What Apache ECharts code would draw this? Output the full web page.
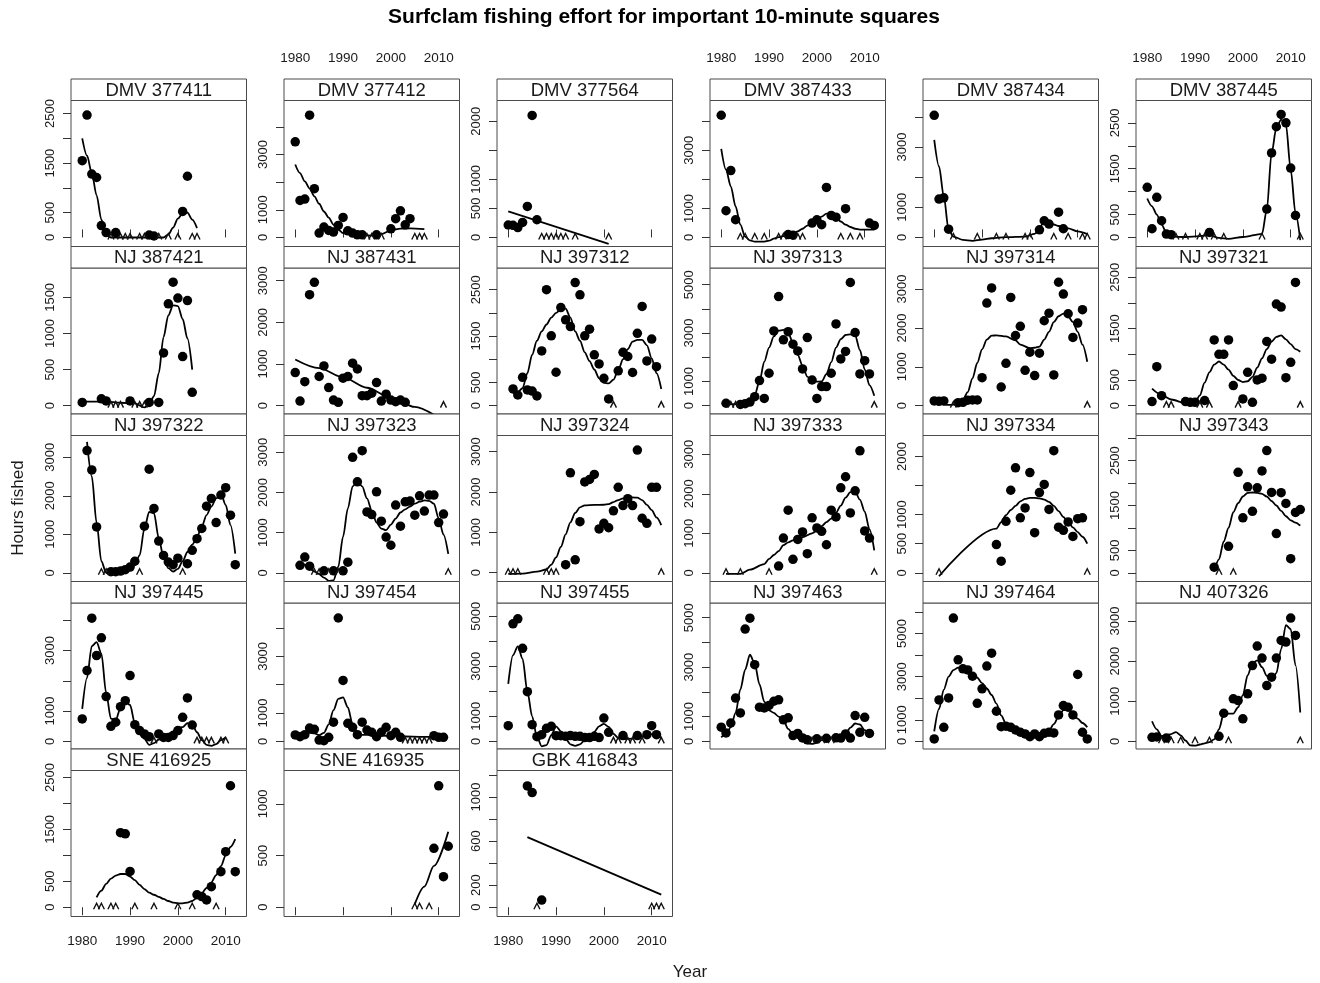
<!DOCTYPE html>
<html><head><meta charset="utf-8">
<script src="https://cdn.jsdelivr.net/npm/echarts@6.0.0/dist/echarts.min.js"></script>
<style>html,body{margin:0;padding:0;background:#fff}#c{width:1320px;height:983px}</style>
</head><body><div id="c"></div>
<script>
const chartTitle = 'Surfclam fishing effort for important 10-minute squares';
const xAxisTitle = 'Year';
const yAxisTitle = 'Hours fished';
const yearTicks = [1980, 1990, 2000, 2010];
const yearRange = [1977.65, 2014.35];

const panelNames = [
  'DMV 377411','DMV 377412','DMV 377564','DMV 387433','DMV 387434','DMV 387445',
  'NJ 387421','NJ 387431','NJ 397312','NJ 397313','NJ 397314','NJ 397321',
  'NJ 397322','NJ 397323','NJ 397324','NJ 397333','NJ 397334','NJ 397343',
  'NJ 397445','NJ 397454','NJ 397455','NJ 397463','NJ 397464','NJ 407326',
  'SNE 416925','SNE 416935','GBK 416843'
];

const yLimits = [
  [-182,2763],[-326,4955],[-155,2357],[-310,4712],[-299,4542],[-197,2988],
  [-116,1907],[-200,3305],[-180,2968],[-345,5690],[-215,3542],[-163,2682],
  [-226,3565],[-217,3417],[-217,3400],[-220,3474],[-150,2362],[-194,3060],
  [-254,4573],[-271,4885],[-307,5533],[-311,5594],[-357,6419],[-192,3450],
  [-179,2634],[-90,1323],[-84,1240]
];

const yTickValues = [
  [0,500,1000,1500,2000,2500],[0,1000,2000,3000,4000],[0,500,1000,1500,2000],[0,1000,2000,3000,4000],[0,1000,2000,3000,4000],[0,500,1000,1500,2000,2500],
  [0,500,1000,1500],[0,1000,2000,3000],[0,500,1000,1500,2000,2500],[0,1000,2000,3000,4000,5000],[0,1000,2000,3000],[0,500,1000,1500,2000,2500],
  [0,1000,2000,3000],[0,1000,2000,3000],[0,1000,2000,3000],[0,1000,2000,3000],[0,500,1000,1500,2000],[0,500,1000,1500,2000,2500,3000],
  [0,1000,2000,3000,4000],[0,1000,2000,3000,4000],[0,1000,2000,3000,4000,5000],[0,1000,2000,3000,4000,5000],[0,1000,2000,3000,4000,5000,6000],[0,1000,2000,3000],
  [0,500,1000,1500,2000,2500],[0,500,1000],[0,200,400,600,800,1000,1200]
];

const yLabelValues = [
  [0,500,1500,2500],[0,1000,3000],[0,500,1000,2000],[0,1000,3000],[0,1000,3000],[0,500,1500,2500],
  [0,500,1000,1500],[0,1000,2000,3000],[0,500,1500,2500],[0,1000,3000,5000],[0,1000,2000,3000],[0,500,1500,2500],
  [0,1000,2000,3000],[0,1000,2000,3000],[0,1000,2000,3000],[0,1000,2000,3000],[0,500,1000,2000],[0,500,1500,2500],
  [0,1000,3000],[0,1000,3000],[0,1000,3000,5000],[0,1000,3000,5000],[0,1000,3000,5000],[0,1000,2000,3000],
  [0,500,1500,2500],[0,500,1000],[0,200,600,1000]
];

const panelPoints = [
  [[1980,1550],[1981,2470],[1982,1280],[1983,1210],[1984,240],[1985,100],[1987,100],[1994,50],[1995,30],[2001,525],[2002,1235]],
  [[1980,3460],[1981,1340],[1982,1390],[1983,4425],[1984,1765],[1985,160],[1986,375],[1987,255],[1988,195],[1989,435],[1990,725],[1991,240],[1992,160],[1993,95],[1994,95],[1997,95],[2000,315],[2001,680],[2002,965],[2003,460],[2004,680]],
  [[1980,215],[1981,210],[1982,170],[1983,260],[1984,535],[1985,2100],[1986,305]],
  [[1980,4205],[1981,920],[1982,2300],[1983,610],[1994,100],[1995,80],[1999,495],[2000,610],[2001,440],[2002,1720],[2003,760],[2004,700],[2006,990],[2011,495],[2012,415]],
  [[1980,4050],[1981,1275],[1982,1315],[1983,275],[2002,255],[2003,555],[2004,445],[2006,840],[2007,290]],
  [[1980,1095],[1981,190],[1982,875],[1983,365],[1984,75],[1985,60],[1993,110],[2005,620],[2006,1845],[2007,2415],[2008,2685],[2009,2500],[2010,1515],[2011,480]],
  [[1980,45],[1984,95],[1985,65],[1990,65],[1994,45],[1996,45],[1997,730],[1998,1410],[1999,1710],[2000,1490],[2001,680],[2002,1455],[2003,185]],
  [[1980,795],[1981,110],[1982,575],[1983,2665],[1984,2960],[1985,700],[1986,955],[1987,435],[1988,135],[1989,80],[1990,660],[1991,700],[1992,1020],[1993,880],[1994,240],[1995,240],[1996,300],[1997,555],[1998,110],[1999,275],[2000,135],[2001,95],[2002,135],[2003,80]],
  [[1981,360],[1982,230],[1983,610],[1984,340],[1985,315],[1986,210],[1987,1180],[1988,2500],[1989,1505],[1990,720],[1991,2115],[1992,1850],[1993,1705],[1994,2655],[1995,2390],[1996,1505],[1997,1650],[1998,1095],[1999,900],[2000,590],[2001,145],[2003,750],[2004,1150],[2005,1060],[2006,715],[2007,1560],[2008,2140],[2009,965],[2010,1435],[2011,840]],
  [[1981,100],[1984,50],[1985,80],[1986,150],[1987,370],[1988,1035],[1989,300],[1990,1340],[1991,3090],[1992,4510],[1993,2720],[1994,3060],[1995,2540],[1996,2260],[1997,1520],[1998,2815],[1999,1060],[2000,300],[2001,790],[2002,790],[2003,1340],[2004,3380],[2005,1930],[2006,2240],[2007,5090],[2008,3020],[2009,1310],[2010,1860],[2011,1310]],
  [[1980,120],[1981,110],[1982,120],[1985,75],[1986,85],[1987,140],[1988,145],[1989,145],[1990,720],[1991,2640],[1992,3030],[1994,480],[1995,1090],[1996,2785],[1997,1805],[1998,2040],[1999,910],[2000,1375],[2001,775],[2002,1350],[2003,2185],[2004,2380],[2005,790],[2006,3175],[2007,2870],[2008,2365],[2009,1755],[2010,2125],[2011,2470]],
  [[1981,80],[1982,760],[1983,195],[1988,80],[1989,65],[1990,65],[1992,100],[1994,1280],[1995,1000],[1996,1000],[1997,1280],[1998,390],[2000,130],[2001,650],[2002,65],[2003,500],[2004,535],[2005,1250],[2006,905],[2007,1980],[2008,1920],[2009,545],[2010,845],[2011,2400]],
  [[1981,3175],[1982,2670],[1983,1190],[1986,30],[1987,30],[1988,45],[1989,80],[1990,150],[1991,300],[1993,1210],[1994,2690],[1995,1670],[1996,825],[1997,450],[1998,280],[1999,210],[2000,380],[2002,235],[2003,585],[2004,885],[2005,1150],[2006,1730],[2007,1930],[2008,1305],[2009,2020],[2010,2210],[2011,1495],[2012,210]],
  [[1981,185],[1982,390],[1983,165],[1986,50],[1988,50],[1990,50],[1991,265],[1992,2875],[1993,2265],[1994,3040],[1995,1515],[1996,1450],[1997,2015],[1998,1285],[1999,890],[2000,685],[2001,1685],[2002,1160],[2003,1765],[2004,1785],[2005,1435],[2006,1915],[2007,1535],[2008,1935],[2009,1935],[2010,1250],[2011,1460]],
  [[1992,200],[1993,2475],[1994,320],[1995,1265],[1996,2250],[1997,2310],[1998,2435],[1999,1085],[2000,1225],[2001,1115],[2002,1535],[2003,2115],[2004,1665],[2005,1835],[2006,1665],[2007,3040],[2008,1350],[2009,1225],[2010,2115],[2011,2115]],
  [[1992,170],[1993,880],[1994,1585],[1995,340],[1996,845],[1997,1035],[1998,485],[1999,1390],[2000,1135],[2001,1050],[2002,710],[2003,1585],[2004,1415],[2005,2150],[2006,2430],[2007,1515],[2008,2075],[2009,3085],[2010,1060],[2011,880]],
  [[1993,485],[1994,200],[1995,885],[1996,1420],[1997,1805],[1998,945],[1999,1115],[2000,1725],[2001,690],[2002,1380],[2003,1520],[2004,1090],[2005,2100],[2006,785],[2007,730],[2008,875],[2009,625],[2010,930],[2011,945]],
  [[1994,125],[1997,590],[1999,2240],[2000,1225],[2001,1915],[2002,1370],[2003,1895],[2004,2270],[2005,2725],[2006,1790],[2007,875],[2008,1785],[2009,1545],[2010,315],[2011,1345],[2012,1410]],
  [[1980,740],[1981,2340],[1982,4070],[1983,2835],[1984,3420],[1985,1480],[1986,495],[1987,630],[1988,1145],[1989,1345],[1990,2175],[1991,550],[1992,355],[1993,245],[1994,155],[1996,245],[1997,130],[1998,130],[1999,190],[2000,355],[2001,795],[2002,1435],[2003,540]],
  [[1980,225],[1981,165],[1982,235],[1983,470],[1984,425],[1985,45],[1986,20],[1987,140],[1988,675],[1989,4355],[1990,2150],[1991,635],[1992,495],[1993,235],[1994,675],[1995,400],[1996,320],[1997,165],[1998,320],[1999,495],[2000,200],[2001,320],[2002,140],[2009,200],[2010,140],[2011,140]],
  [[1980,625],[1981,4700],[1982,4900],[1983,3720],[1984,1985],[1985,665],[1986,185],[1987,265],[1988,520],[1989,600],[1990,225],[1991,225],[1992,200],[1993,230],[1994,200],[1995,200],[1996,150],[1997,150],[1998,200],[1999,150],[2000,930],[2001,360],[2004,230],[2007,230],[2009,265],[2010,625],[2011,265]],
  [[1980,570],[1981,340],[1982,740],[1983,1750],[1984,1150],[1985,4540],[1986,4980],[1987,3100],[1988,1380],[1989,1350],[1990,1450],[1991,1620],[1992,1680],[1993,870],[1994,950],[1995,230],[1996,320],[1997,135],[1998,60],[2000,100],[2002,120],[2004,140],[2005,130],[2006,300],[2007,130],[2008,1040],[2009,365],[2010,970],[2011,320]],
  [[1980,110],[1981,1920],[1982,650],[1983,2015],[1984,5720],[1985,3780],[1986,3365],[1987,3315],[1988,3020],[1989,1765],[1990,2435],[1991,3490],[1992,4090],[1993,1395],[1994,680],[1995,700],[1996,650],[1997,525],[1998,420],[1999,340],[2000,215],[2001,340],[2002,215],[2003,370],[2004,420],[2005,390],[2006,1225],[2007,1660],[2008,1580],[2009,1225],[2010,3100],[2011,420],[2012,110]],
  [[1981,100],[1982,110],[1984,80],[1995,125],[1996,700],[1998,1060],[1999,1015],[2000,560],[2001,1185],[2002,1890],[2003,2375],[2004,2075],[2005,1390],[2006,1600],[2007,2075],[2008,2515],[2009,2475],[2010,3075],[2011,2640]],
  [[1988,1435],[1989,1415],[1990,690],[2004,240],[2005,205],[2006,140],[2007,395],[2009,685],[2010,1070],[2011,2340],[2012,685]],
  [[2009,570],[2010,1175],[2011,295],[2012,590]],
  [[1984,1100],[1985,1040],[1987,65]]
];

const panelZeros = [
  [1986,1988,1989,1990,1992,1993,1996,1998,2000,2003,2004],
  [1995,1996,1998,2005,2006,2007],
  [1987,1988,1989,1990,1991,1992,1994,2001],
  [1984,1985,1987,1989,1992,1993,1996,1997,2005,2007,2009],
  [1984,1989,1993,1995,1999,2000,2005,2008,2011,2012],
  [1986,1988,1991,1992,1994,1996,2004,2012],
  [1986,1987,1988,1991,1992,1993],
  [2011],
  [2002,2012],
  [1982,1983,2012],
  [1984,2012],
  [1984,1985,1991,1993,1999,2012],
  [1984,1985,1992,2001],
  [1984,1985,1987,1989,2012],
  [1980,1981,1982,1988,1989,1990,2012],
  [1981,1984,1990,2012],
  [1981,2012],
  [1995,1998],
  [1995,2004,2005,2006,2007,2009,2010],
  [2003,2004,2005,2006,2007,2008],
  [2002,2003,2005,2006,2008,2012],
  [1999,2001,2003],
  [],
  [1983,1985,1987,1990,1993,1997,2012],
  [1983,1984,1986,1987,1991,1995,2000,2003,2008],
  [2005,2006,2008],
  [1986,2010,2011,2012]
];

const panelSmooth = [
  [[1980,2000],[1981,1650],[1982,1300],[1983,850],[1984,360],[1985,60],[1986,0],[1997,0],[1998,60],[1999,200],[2000,380],[2001,490],[2002,500],[2003,360],[2004,190]],
  [[1980,2640],[1981,2330],[1982,2030],[1983,1770],[1984,1490],[1985,1220],[1986,940],[1987,720],[1988,460],[1989,280],[1990,160],[1992,100],[1994,80],[1996,70],[1998,120],[2000,260],[2002,320],[2004,330],[2007,300]],
  [[1980,450],[2001,-110]],
  [[1980,3050],[1981,2330],[1982,1760],[1983,1070],[1984,440],[1985,30],[1986,-100],[1987,-140],[1989,-140],[1990,-110],[1991,-40],[1992,10],[1993,50],[1995,140],[1996,210],[1997,300],[1998,410],[1999,520],[2000,600],[2001,720],[2002,820],[2003,800],[2004,680],[2005,550],[2006,440],[2007,360],[2008,300],[2009,270],[2012,270]],
  [[1980,3240],[1981,2360],[1982,1360],[1983,260],[1984,30],[1986,-80],[1988,-110],[1990,-70],[1992,-25],[1995,10],[1999,30],[2001,120],[2002,300],[2003,560],[2004,500],[2005,430],[2006,380],[2008,300],[2010,200],[2012,110]],
  [[1980,850],[1981,680],[1982,500],[1983,280],[1984,110],[1985,20],[1988,10],[1991,30],[1993,50],[1995,-10],[1997,-30],[2000,10],[2004,80],[2005,600],[2006,1840],[2007,2390],[2008,2570],[2009,2460],[2010,1480],[2011,530],[2012,-60]],
  [[1980,55],[1985,55],[1988,40],[1991,30],[1993,-25],[1994,20],[1995,130],[1996,450],[1997,950],[1998,1250],[1999,1390],[2000,1380],[2001,1200],[2002,930],[2003,500]],
  [[1980,1110],[1985,900],[1990,680],[1995,430],[2000,190],[2005,-30],[2009,-220]],
  [[1981,270],[1982,290],[1983,380],[1984,700],[1985,1100],[1986,1400],[1987,1600],[1988,1750],[1989,1900],[1990,2000],[1991,2080],[1992,2090],[1993,1900],[1994,1600],[1995,1400],[1996,1150],[1997,960],[1998,780],[1999,590],[2000,490],[2001,480],[2002,560],[2003,760],[2004,1000],[2005,1220],[2006,1380],[2007,1420],[2008,1420],[2009,1300],[2010,1020],[2011,700],[2012,360]],
  [[1981,55],[1983,60],[1985,165],[1986,250],[1987,440],[1988,1000],[1989,1820],[1990,2400],[1991,2860],[1992,3100],[1993,3130],[1994,3000],[1995,2600],[1996,2100],[1997,1650],[1998,1200],[1999,1020],[2000,990],[2001,1000],[2002,1300],[2003,1800],[2004,2400],[2005,2750],[2006,2920],[2007,2950],[2008,2900],[2009,2300],[2010,1500],[2011,850],[2012,410]],
  [[1981,60],[1983,20],[1985,30],[1986,150],[1987,350],[1988,700],[1989,1100],[1990,1450],[1991,1700],[1992,1800],[1993,1810],[1995,1780],[1997,1680],[1998,1570],[2000,1480],[2001,1490],[2002,1520],[2003,1700],[2004,1900],[2005,2150],[2006,2300],[2007,2370],[2008,2300],[2009,2150],[2010,1900],[2011,1570],[2012,1130]],
  [[1981,330],[1983,210],[1985,120],[1988,45],[1990,60],[1991,200],[1992,450],[1993,650],[1994,800],[1995,860],[1996,800],[1997,700],[1998,580],[1999,500],[2000,460],[2001,475],[2002,560],[2003,740],[2004,920],[2005,1100],[2006,1250],[2007,1340],[2008,1370],[2009,1290],[2010,1200],[2011,1100],[2012,1050]],
  [[1981,3400],[1982,2500],[1983,1300],[1984,300],[1985,0],[1986,-50],[1987,-40],[1988,0],[1989,40],[1990,100],[1991,200],[1992,450],[1993,1150],[1994,1580],[1995,1550],[1996,900],[1997,400],[1998,120],[1999,30],[2000,100],[2001,300],[2002,540],[2003,730],[2004,930],[2005,1200],[2006,1500],[2007,1720],[2008,1930],[2009,2060],[2010,1760],[2011,1240],[2012,500]],
  [[1981,270],[1982,200],[1983,100],[1984,30],[1985,-30],[1986,-120],[1987,-200],[1988,-190],[1989,150],[1990,900],[1991,1600],[1992,2150],[1993,2300],[1994,2150],[1995,1850],[1996,1550],[1997,1250],[1998,1100],[1999,1060],[2000,1200],[2001,1350],[2002,1500],[2003,1580],[2004,1650],[2005,1720],[2006,1770],[2007,1800],[2008,1790],[2009,1720],[2010,1350],[2011,950],[2012,470]],
  [[1980,-30],[1983,-20],[1986,30],[1988,80],[1989,200],[1990,380],[1991,640],[1992,950],[1993,1250],[1994,1480],[1995,1620],[1996,1670],[1998,1680],[2000,1685],[2001,1700],[2002,1750],[2003,1800],[2004,1840],[2005,1860],[2006,1865],[2007,1860],[2008,1800],[2009,1680],[2010,1550],[2011,1370],[2012,1180]],
  [[1981,-25],[1984,-25],[1986,80],[1989,220],[1990,350],[1991,450],[1992,550],[1993,700],[1994,770],[1995,820],[1997,900],[1999,1000],[2001,1180],[2002,1280],[2003,1370],[2004,1520],[2005,1700],[2006,1900],[2007,2040],[2008,2050],[2009,1850],[2010,1550],[2011,1100],[2012,570]],
  [[1981,-60],[1993,760],[1994,870],[1995,990],[1996,1080],[1997,1150],[1998,1230],[1999,1270],[2000,1290],[2001,1290],[2002,1280],[2003,1260],[2004,1220],[2005,1150],[2006,1060],[2007,960],[2008,870],[2009,780],[2010,700],[2011,620],[2012,500]],
  [[1994,30],[1995,300],[1996,700],[1997,1000],[1998,1350],[1999,1550],[2000,1700],[2001,1780],[2002,1790],[2003,1780],[2004,1760],[2005,1700],[2006,1600],[2007,1500],[2008,1380],[2009,1260],[2010,1170],[2011,1120],[2012,1050]],
  [[1980,1070],[1981,2100],[1982,3150],[1983,3280],[1984,2900],[1985,1600],[1986,750],[1987,700],[1988,1100],[1989,1330],[1990,1200],[1991,600],[1992,250],[1993,80],[1994,-120],[1995,-60],[1996,60],[1997,130],[1998,220],[1999,330],[2000,450],[2001,470],[2002,600],[2003,560],[2004,300],[2005,40],[2006,-120],[2007,-150],[2008,-90],[2009,40],[2010,140]],
  [[1980,220],[1982,280],[1983,300],[1984,280],[1985,220],[1986,300],[1987,600],[1988,1100],[1989,1500],[1990,1550],[1991,1200],[1992,600],[1993,300],[1994,230],[1996,220],[1998,200],[2000,190],[2003,170],[2006,160],[2009,160],[2011,160]],
  [[1980,2300],[1981,3450],[1982,3800],[1983,3300],[1984,2000],[1985,1000],[1986,180],[1987,-200],[1988,-150],[1989,250],[1990,600],[1991,400],[1992,100],[1993,-120],[1994,-180],[1995,-120],[1996,50],[1997,200],[1998,380],[1999,600],[2000,700],[2001,580],[2002,300],[2003,140],[2004,90],[2006,110],[2008,200],[2010,290],[2011,220],[2012,130]],
  [[1980,160],[1981,300],[1982,570],[1983,1150],[1984,2100],[1985,2900],[1986,3500],[1987,3150],[1988,2300],[1989,1600],[1990,1250],[1991,1150],[1992,1000],[1993,850],[1994,500],[1995,300],[1996,130],[1997,20],[1998,-80],[1999,-100],[2000,-60],[2001,50],[2002,100],[2003,130],[2004,140],[2005,160],[2006,300],[2007,550],[2008,720],[2009,680],[2010,450],[2011,280]],
  [[1980,460],[1981,1500],[1982,2400],[1983,3000],[1984,3300],[1985,3420],[1986,3400],[1987,3300],[1988,3150],[1989,2950],[1990,2700],[1991,2450],[1992,2150],[1993,1750],[1994,1200],[1995,820],[1996,680],[1997,590],[1998,480],[1999,420],[2000,340],[2001,270],[2002,280],[2003,340],[2004,500],[2005,800],[2006,1150],[2007,1450],[2008,1500],[2009,1300],[2010,1050],[2011,850],[2012,650]],
  [[1981,500],[1982,300],[1983,130],[1984,150],[1985,180],[1986,230],[1987,150],[1988,20],[1989,-100],[1990,-110],[1991,-80],[1992,-50],[1993,-20],[1994,50],[1995,300],[1996,690],[1997,690],[1998,690],[1999,850],[2000,1150],[2001,1650],[2002,1950],[2003,2020],[2004,1850],[2005,1630],[2006,1530],[2007,1700],[2008,2300],[2009,2900],[2010,2800],[2011,1900],[2012,720]],
  [[1983,190],[1984,320],[1985,450],[1986,550],[1987,610],[1988,640],[1989,640],[1990,590],[1991,520],[1992,430],[1993,350],[1994,280],[1995,240],[1996,200],[1997,160],[1998,120],[1999,90],[2000,75],[2001,75],[2002,90],[2003,120],[2004,180],[2005,270],[2006,370],[2007,480],[2008,620],[2009,790],[2010,1000],[2011,1160],[2012,1310]],
  [[2005,30],[2007,200],[2009,400],[2012,730]],
  [[1984,636],[2012,114]]
];

// ---------- layout / styling ----------
const FONT = '"Liberation Sans", Arial, sans-serif';
const colLeft0 = 71, colPitch = 213, panelW = 175.5;
const rowTops = [79, 246.5, 414, 581.5, 749];
const stripH = 21.5, plotH = 146;
const frameColor = '#4a4a4a';
const textColor = '#1a1a1a';
const plain = v => String(v);

const grids = [], xAxes = [], yAxes = [], series = [], graphics = [];

panelNames.forEach((name, i) => {
  const col = i % 6, row = Math.floor(i / 6);
  const left = colLeft0 + col * colPitch;
  const top = rowTops[row];
  graphics.push({
    type: 'rect', z: 10,
    shape: { x: left, y: top, width: panelW, height: stripH },
    style: { fill: '#fff', stroke: frameColor, lineWidth: 1 }
  });
  graphics.push({
    type: 'text', z: 11, x: left + panelW / 2, y: top + stripH / 2 + 1,
    style: { text: name, fontSize: 18.5, fontFamily: FONT, fill: textColor, align: 'center', verticalAlign: 'middle', textAlign: 'center', textVerticalAlign: 'middle' }
  });
  grids.push({ left: left, top: top + stripH, width: panelW, height: plotH, show: true, borderColor: frameColor, borderWidth: 1, backgroundColor: '#fff' });

  const isTop = row === 0;
  const isBottom = row === 4;
  const hasXAxis = isTop || isBottom;
  const hasXLabel = isTop ? (col % 2 === 1) : (isBottom && col % 2 === 0);
  xAxes.push({
    gridIndex: i, type: 'value', min: yearRange[0], max: yearRange[1],
    position: isTop ? 'top' : 'bottom', offset: isTop ? stripH : 0,
    axisLine: { show: false }, splitLine: { show: false },
    axisTick: { show: hasXAxis, customValues: yearTicks, length: 8, inside: false, lineStyle: { color: '#333', width: 1 } },
    axisLabel: { show: hasXLabel, customValues: yearTicks, formatter: plain, margin: isTop ? 14 : 18, fontSize: 13.5, fontFamily: FONT, color: textColor }
  });
  yAxes.push({
    gridIndex: i, type: 'value', min: yLimits[i][0], max: yLimits[i][1],
    axisLine: { show: false }, splitLine: { show: false },
    axisTick: { show: true, customValues: yTickValues[i], length: 8, inside: false, lineStyle: { color: '#333', width: 1 } },
    axisLabel: { show: true, customValues: yLabelValues[i], formatter: plain, rotate: 90, margin: 14, fontSize: 13, fontFamily: FONT, color: textColor }
  });

  series.push({
    type: 'line', xAxisIndex: i, yAxisIndex: i, data: panelSmooth[i],
    showSymbol: false, smooth: 0.3, smoothMonotone: 'x', silent: true, clip: true,
    lineStyle: { color: '#000', width: 1.8 }, z: 3
  });
  series.push({
    type: 'scatter', xAxisIndex: i, yAxisIndex: i, data: panelPoints[i],
    symbol: 'circle', symbolSize: 9.5, silent: true,
    itemStyle: { color: '#000', opacity: 1 }, z: 4
  });
  series.push({
    type: 'scatter', xAxisIndex: i, yAxisIndex: i, data: panelZeros[i].map(y => [y, 0]),
    symbol: 'path://M0,10L5,0L10,10', symbolSize: [6, 6], symbolOffset: [0, -1], silent: true,
    itemStyle: { color: 'none', borderColor: '#111', borderWidth: 1.4, opacity: 1 }, z: 5
  });
});

graphics.push({
  type: 'text', x: 664, y: 17,
  style: { text: chartTitle, fontSize: 21, fontWeight: 'bold', fontFamily: FONT, fill: '#000', align: 'center', verticalAlign: 'middle', textAlign: 'center', textVerticalAlign: 'middle' }
});
graphics.push({
  type: 'text', x: 690, y: 972,
  style: { text: xAxisTitle, fontSize: 17, fontFamily: FONT, fill: textColor, align: 'center', verticalAlign: 'middle', textAlign: 'center', textVerticalAlign: 'middle' }
});
graphics.push({
  type: 'text', x: 18, y: 508, rotation: Math.PI / 2,
  style: { text: yAxisTitle, fontSize: 17, fontFamily: FONT, fill: textColor, align: 'center', verticalAlign: 'middle', textAlign: 'center', textVerticalAlign: 'middle' }
});

const chart = echarts.init(document.getElementById('c'), null, { renderer: 'canvas' });
chart.setOption({
  animation: false,
  backgroundColor: '#fff',
  grid: grids, xAxis: xAxes, yAxis: yAxes, series: series,
  graphic: { elements: graphics }
});
</script></body></html>
